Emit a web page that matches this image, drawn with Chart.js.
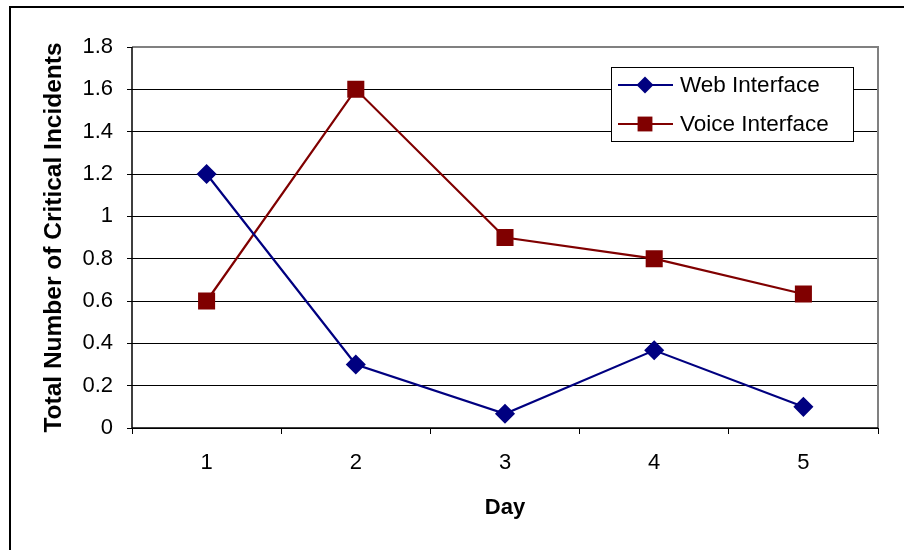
<!DOCTYPE html>
<html>
<head>
<meta charset="utf-8">
<script src="https://cdn.jsdelivr.net/npm/chart.js@4.4.1/dist/chart.umd.min.js"></script>
<style>
  html, body { margin: 0; padding: 0; background: #fff; }
  #wrap { position: relative; width: 904px; height: 550px; }
</style>
</head>
<body>
<div id="wrap"><canvas id="c" width="904" height="550"></canvas></div>
<script>
const days = ['1', '2', '3', '4', '5'];
const webInterface = [1.2, 0.3, 0.067, 0.367, 0.1];
const voiceInterface = [0.6, 1.6, 0.9, 0.8, 0.633];
const seriesNames = ['Web Interface', 'Voice Interface'];
const xTitle = 'Day';
const yTitle = 'Total Number of Critical Incidents';

const FONT = "'Liberation Sans', Arial, sans-serif";

const frame = {
  id: 'frame',
  beforeDraw(chart) {
    const ctx = chart.ctx;
    ctx.save();
    ctx.fillStyle = '#fff';
    ctx.fillRect(0, 0, chart.width, chart.height);
    ctx.strokeStyle = '#000';
    ctx.lineWidth = 2;
    ctx.beginPath();
    ctx.moveTo(10, 560);
    ctx.lineTo(10, 7);
    ctx.lineTo(910, 7);
    ctx.stroke();
    ctx.restore();
  },
  afterDatasetsDraw(chart) {
    const ctx = chart.ctx;
    const a = chart.chartArea;
    ctx.save();
    ctx.strokeStyle = '#808080';
    ctx.lineWidth = 2;
    ctx.beginPath();
    ctx.moveTo(a.left, a.top);
    ctx.lineTo(a.right, a.top);
    ctx.lineTo(a.right, a.bottom);
    ctx.stroke();
    ctx.strokeStyle = '#000';
    ctx.lineWidth = 1.5;
    ctx.beginPath();
    ctx.moveTo(a.left, a.top);
    ctx.lineTo(a.left, a.bottom);
    ctx.lineTo(a.right, a.bottom);
    ctx.stroke();
    ctx.restore();
  },
  afterDraw(chart) {
    const ctx = chart.ctx;
    const bx = 611, by = 67, bw = 242, bh = 74;
    ctx.save();
    ctx.fillStyle = '#fff';
    ctx.fillRect(bx, by, bw, bh);
    ctx.strokeStyle = '#000';
    ctx.lineWidth = 1;
    ctx.strokeRect(bx + 0.5, by + 0.5, bw, bh);
    chart.data.datasets.forEach((ds, i) => {
      const y = by + 18 + i * 39;
      ctx.strokeStyle = ds.borderColor;
      ctx.lineWidth = 2;
      ctx.beginPath();
      ctx.moveTo(bx + 7, y);
      ctx.lineTo(bx + 62, y);
      ctx.stroke();
      ctx.fillStyle = ds.pointBackgroundColor;
      ctx.beginPath();
      if (ds.pointStyle === 'rect') {
        const s = ds.pointRadius * Math.SQRT1_2;
        ctx.rect(bx + 34 - s, y - s, 2 * s, 2 * s);
      } else {
        const r = ds.pointRadius;
        ctx.moveTo(bx + 34, y - r);
        ctx.lineTo(bx + 34 + r, y);
        ctx.lineTo(bx + 34, y + r);
        ctx.lineTo(bx + 34 - r, y);
        ctx.closePath();
      }
      ctx.fill();
      ctx.fillStyle = '#000';
      ctx.font = '22.5px ' + FONT;
      ctx.textAlign = 'left';
      ctx.textBaseline = 'middle';
      ctx.fillText(ds.label, bx + 69, y + 1);
    });
    ctx.restore();
  }
};

new Chart(document.getElementById('c'), {
  type: 'line',
  data: {
    labels: days,
    datasets: [
      {
        label: seriesNames[0],
        data: webInterface,
        borderColor: '#000080',
        backgroundColor: '#000080',
        pointBackgroundColor: '#000080',
        pointBorderColor: '#000080',
        pointStyle: 'rectRot',
        pointRadius: 8.5,
        pointHoverRadius: 8.5,
        borderWidth: 2.2,
        tension: 0,
        clip: false
      },
      {
        label: seriesNames[1],
        data: voiceInterface,
        borderColor: '#800000',
        backgroundColor: '#800000',
        pointBackgroundColor: '#800000',
        pointBorderColor: '#800000',
        pointStyle: 'rect',
        pointRadius: 10.5,
        pointHoverRadius: 10.5,
        borderWidth: 2.2,
        tension: 0,
        clip: false
      }
    ]
  },
  options: {
    responsive: false,
    animation: false,
    devicePixelRatio: 1,
    layout: { padding: { left: 28, top: 47, right: 26, bottom: 0 } },
    plugins: {
      legend: { display: false },
      tooltip: { enabled: false }
    },
    scales: {
      x: {
        offset: true,
        grid: {
          offset: true,
          drawOnChartArea: false,
          drawTicks: true,
          tickLength: 6,
          color: '#000',
          lineWidth: 1
        },
        border: { display: false },
        ticks: {
          color: '#000',
          font: { family: FONT, size: 22 },
          padding: 16,
          maxRotation: 0
        },
        title: {
          display: true,
          text: xTitle,
          color: '#000',
          font: { family: FONT, size: 22, weight: 'bold' },
          padding: { top: 0, bottom: 29 }
        },
        afterFit(scale) { scale.height = 122; }
      },
      y: {
        min: 0,
        max: 1.8,
        ticks: {
          stepSize: 0.2,
          color: '#000',
          font: { family: FONT, size: 22 },
          padding: 14,
          callback: (v) => String(Number(Number(v).toFixed(1)))
        },
        grid: {
          color: '#000',
          lineWidth: 1,
          drawTicks: true,
          tickLength: 5
        },
        border: { display: false },
        title: {
          display: true,
          text: yTitle,
          color: '#000',
          font: { family: FONT, size: 24.5, weight: 'bold' },
          padding: { top: 12, bottom: 0 }
        },
        afterFit(scale) { scale.width = 104; }
      }
    }
  },
  plugins: [frame]
});
</script>
</body>
</html>
